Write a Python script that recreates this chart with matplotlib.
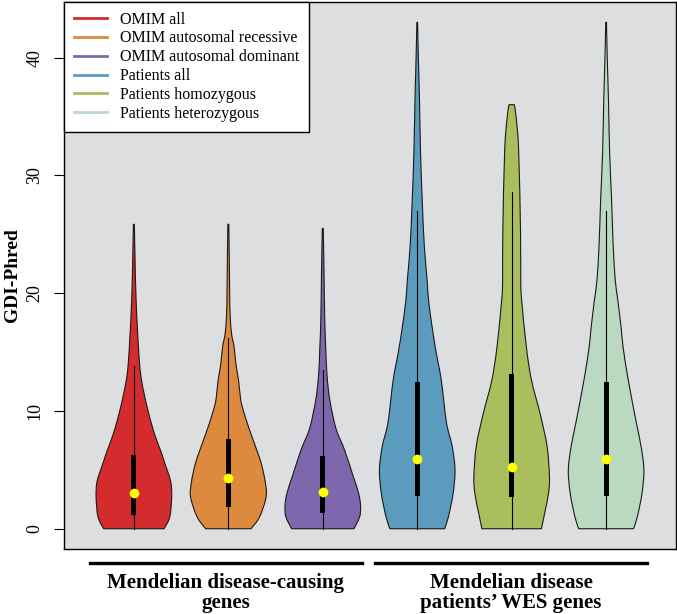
import numpy as np
import matplotlib
matplotlib.use("Agg")
import matplotlib.pyplot as plt
from matplotlib.path import Path
from matplotlib.patches import PathPatch

plt.rcParams["font.family"] = ["Liberation Serif", "DejaVu Serif"]

labels = ["OMIM all", "OMIM autosomal recessive", "OMIM autosomal dominant",
          "Patients all", "Patients homozygous", "Patients heterozygous"]
colors = ["#D42B2F", "#DD8A3E", "#7E67AC", "#5B9BBD", "#ABBE5D", "#BAD9C0"]

# violin outlines: y levels and half widths (x units)
prof_y = [
    [0, 1, 2.7, 4, 5.5, 6.7, 8, 10, 12.4, 14, 16.6, 18.5, 20.8, 23, 25.85],
    [0, 1, 2.7, 4, 5.5, 6.7, 8.5, 10, 11, 12.5, 14, 15.5, 16.5, 18, 20, 23, 25.85],
    [0, 1, 1.9, 3, 4.5, 6.7, 8.5, 10.9, 13, 15.2, 18, 22, 25.5],
    [0, 1, 3, 5, 7, 9, 12.6, 15, 17, 19.4, 21.1, 24, 27.9, 32, 36.4, 40, 43],
    [0, 1.35, 3, 4.4, 7, 9.8, 12.6, 15.4, 19.4, 21.1, 25.1, 32.1, 34.9, 36],
    [0, 1, 3, 5, 7, 9, 12.6, 15.4, 17, 19.4, 21.1, 24, 27.9, 32, 36.4, 40, 43],
]
prof_w = [
    [0.32, 0.38, 0.40, 0.39, 0.33, 0.28, 0.22, 0.15, 0.085, 0.06, 0.04, 0.028, 0.018, 0.012, 0.005],
    [0.24, 0.33, 0.40, 0.39, 0.35, 0.30, 0.22, 0.16, 0.13, 0.11, 0.08, 0.06, 0.035, 0.02, 0.014, 0.01, 0.005],
    [0.33, 0.39, 0.40, 0.38, 0.32, 0.23, 0.14, 0.075, 0.045, 0.032, 0.02, 0.013, 0.005],
    [0.29, 0.33, 0.38, 0.40, 0.37, 0.31, 0.255, 0.20, 0.16, 0.12, 0.105, 0.075, 0.053, 0.035, 0.024, 0.012, 0.004],
    [0.315, 0.35, 0.39, 0.40, 0.375, 0.30, 0.21, 0.156, 0.106, 0.096, 0.094, 0.074, 0.048, 0.028],
    [0.29, 0.33, 0.38, 0.40, 0.37, 0.32, 0.235, 0.18, 0.16, 0.124, 0.097, 0.075, 0.058, 0.037, 0.025, 0.012, 0.004],
]
q1 = [1.2, 1.85, 1.3, 2.8, 2.7, 2.8]
q3 = [6.3, 7.6, 6.2, 12.5, 13.1, 12.5]
medians = [3.05, 4.3, 3.1, 5.9, 5.25, 5.9]
whisk_lo = [0, 0, 0, 0, 0, 0]
whisk_hi = [13.8, 16.2, 13.5, 27.0, 28.6, 27.0]

group_names = ["Mendelian disease-causing\ngenes", "Mendelian disease\npatients\u2019 WES genes"]
group_spans = [(0.535, 3.41), (3.55, 6.435)]


def smooth_side(pts):
    # Catmull-Rom through the points, written as cubic bezier segments
    verts, codes = [], []
    n = len(pts)
    for k in range(n - 1):
        p0 = pts[max(k - 1, 0)]
        p1, p2 = pts[k], pts[k + 1]
        p3 = pts[min(k + 2, n - 1)]
        verts += [p1 + (p2 - p0) / 6, p2 - (p3 - p1) / 6, p2]
        codes += [Path.CURVE4] * 3
    return verts, codes


def violin_path(x, y, w):
    y = np.asarray(y, float)
    w = np.asarray(w, float)
    left = np.column_stack([x - w, y])
    right = np.column_stack([x + w, y])[::-1]
    verts, codes = [left[0]], [Path.MOVETO]
    v, c = smooth_side(left)
    verts += v
    codes += c
    verts.append(right[0])
    codes.append(Path.LINETO)
    v, c = smooth_side(right)
    verts += v
    codes += c
    verts.append(left[0])
    codes.append(Path.CLOSEPOLY)
    return Path(np.array(verts), codes)


fig = plt.figure(figsize=(6.77, 6.14), dpi=100)
ax = fig.add_axes([64 / 677, 65 / 614, 612 / 677, 547 / 614])
ax.set_facecolor("#DDDEE0")

for i in range(6):
    x = i + 1
    patch = PathPatch(violin_path(x, prof_y[i], prof_w[i]), facecolor=colors[i],
                      edgecolor="#1a1a1a", lw=0.8, zorder=2)
    ax.add_patch(patch)
    ax.plot([x, x], [whisk_lo[i], whisk_hi[i]], color="black", lw=0.8, zorder=3)
    ax.bar(x, q3[i] - q1[i], bottom=q1[i], width=0.055, color="black", zorder=4)
    ax.plot(x, medians[i], "o", color="#FFFF00", markersize=7, mec="none", zorder=5)

ax.set_xlim(0.26, 6.74)
ax.set_ylim(-1.72, 44.72)
ax.set_xticks([])
ax.set_yticks([0, 10, 20, 30, 40])
ax.set_yticklabels(["0", "10", "20", "30", "40"], rotation=90, va="center", fontsize=13)
ax.tick_params(axis="y", length=7, width=0.8, pad=8)
for s in ax.spines.values():
    s.set_linewidth(1.0)
ax.set_ylabel("GDI-Phred", fontsize=14, fontweight="bold")
ax.yaxis.set_label_coords(-0.071, 0.5)

handles = [plt.Line2D([], [], color=c, lw=2) for c in colors]
leg = ax.legend(handles, labels, loc="upper left", borderaxespad=0, fancybox=False,
                framealpha=1, edgecolor="black", fontsize=11.5, handlelength=2.1,
                handletextpad=0.8, labelspacing=0.18, borderpad=0.6)
leg.get_frame().set_linewidth(1.0)

trans = ax.get_xaxis_transform()
for name, (a, b) in zip(group_names, group_spans):
    ax.plot([a, b], [-0.026, -0.026], color="black", lw=2.4, transform=trans, clip_on=False)
    ax.text((a + b) / 2, -0.043, name, transform=trans, ha="center", va="top",
            fontsize=15, fontweight="bold", linespacing=1.05)

fig.savefig("out.png", dpi=100)
